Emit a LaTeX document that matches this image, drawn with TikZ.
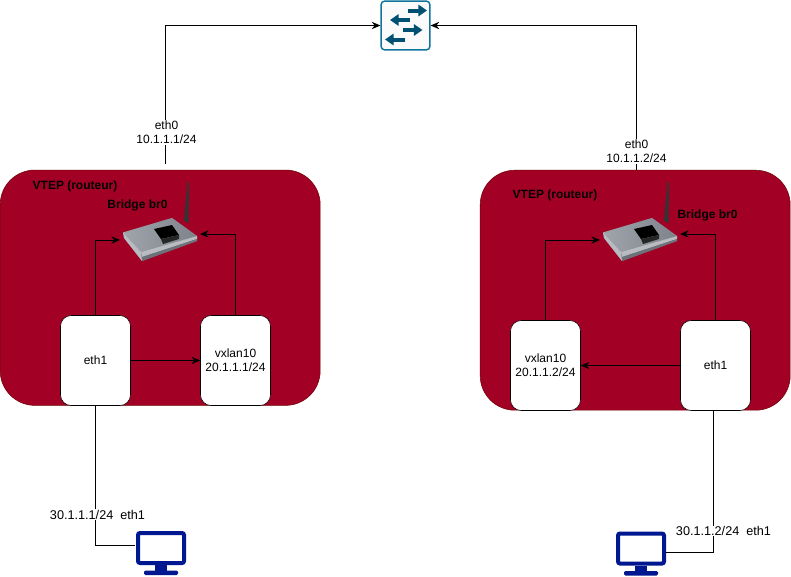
\documentclass[tikz,border=0pt]{standalone}
\usepackage{fontspec}
\setmainfont{Liberation Sans}
\usetikzlibrary{arrows.meta}

\definecolor{vtepred}{HTML}{A20025}
\definecolor{vtepedge}{HTML}{6F0000}
\definecolor{swblue}{HTML}{005073}
\definecolor{swedge}{HTML}{10739E}
\definecolor{pcblue}{HTML}{00188F}
\definecolor{bridgetop}{HTML}{7E828A}
\definecolor{bridgelight}{HTML}{A0A4AB}
\definecolor{bridgerim}{HTML}{B8BBC0}
\definecolor{bridgedark}{HTML}{6E7278}

\tikzset{
  every node/.style={font=\fontsize{9}{10.5}\selectfont},
  vtep/.style={draw=vtepedge, fill=vtepred, rounded corners=26pt, minimum height=176.5pt, inner sep=0pt},
  iface/.style={draw=black, fill=white, rounded corners=8pt, minimum width=52.5pt, minimum height=67.5pt, inner sep=0pt, align=center},
  link/.style={draw=black, line width=0.75pt},
  arrowlink/.style={link, -{Stealth[length=6.5pt,width=5.5pt]}},
  addr/.style={fill=white, inner sep=0.5pt, align=center},
  hostaddr/.style={addr, font=\fontsize{9.5}{10.5}\selectfont},
  title/.style={font=\fontsize{9}{10.5}\selectfont\bfseries},
  switchbox/.style={draw=swedge, fill=white!98!black, line width=1.1pt, rounded corners=2.5pt, minimum size=36.5pt, inner sep=0pt},
  screen/.style={draw=pcblue, fill=white, line width=3pt, rounded corners=1.5pt, minimum width=34.5pt, minimum height=22.5pt, inner sep=0pt},
  bridgespot/.style={minimum width=57pt, minimum height=33pt, inner sep=0pt},
  swarrow/.style={draw=swblue, line width=3pt, -{Triangle[length=6.5pt,width=8.5pt]}},
  switcharrows/.pic={
    \draw[swarrow] (2,-15) -- (21.5,-15);
    \draw[swarrow] (4,-5.5) -- (-15.5,-5.5);
    \draw[swarrow] (-2.5,4.5) -- (17,4.5);
    \draw[swarrow] (-1,14) -- (-20.5,14);
  },
  hoststand/.pic={
    \fill[pcblue] (-6,0) -- (6,0) -- (6,6) -- (-6,6) -- cycle;
    \fill[pcblue, rounded corners=1pt] (-17,5.5) -- (17,5.5) -- (17,10) -- (-17,10) -- cycle;
  },
  bridgeicon/.pic={
    % antenna
    \fill[black!80] (24,-17) -- (27.5,-56) -- (29,-56) -- (28.5,-15) -- cycle;
    % body
    \fill[bridgedark] (-37,-5.5) -- (12,-20) -- (37,-2) -- (37,3) -- (-18,23) -- (-36,0) -- cycle;
    \shade[left color=bridgelight, right color=bridgetop] (-37,-5.5) -- (12,-20) -- (37,-2) -- (-19,14) -- cycle;
    \fill[bridgerim] (-37,-5.5) -- (-19,14) -- (-18,23) -- (-36,0) -- cycle;
    \fill[bridgerim] (-19,14) -- (37,-2) -- (37,1) -- (-18,19) -- cycle;
    \fill[bridgedark] (-18,19) -- (37,1) -- (37,3) -- (-18,23) -- cycle;
    % front panel
    \fill[black] (-6,-9) -- (12,-13) -- (19,-3) -- (1,1) -- cycle;
    \fill[black!85] (3,6) -- (19,1) -- (19,-3) -- (1,1) -- cycle;
  }
}

\begin{document}
\begin{tikzpicture}[x=0.75pt, y=-0.75pt]
\useasboundingbox (0,0) rectangle (791,576);

% left side
\node[vtep, minimum width=240pt] (vtepL) at (160.2,287.7) {};
\node[title] (vtepLtitle) at (75,186) {VTEP (routeur)};
\node[title] (brLtitle) at (137.5,205) {Bridge br0};
\node[bridgespot] (brL) at (160,238) {};
\pic at (brL) {bridgeicon};
\coordinate (brLin) at (120,240);
\coordinate (brLout) at (200,234);
\node[iface] (eth1L) at (95.5,360.5) {eth1};
\node[iface] (vxlanL) at (235.5,360.5) {vxlan10\\20.1.1.1/24};

% right side
\node[vtep, minimum width=232.5pt, minimum height=180pt] (vtepR) at (635.2,290.2) {};
\node[title] (vtepRtitle) at (555,195.5) {VTEP (routeur)};
\node[title] (brRtitle) at (707.5,215) {Bridge br0};
\node[bridgespot] (brR) at (640,238) {};
\pic at (brR) {bridgeicon};
\coordinate (brRin) at (600,240);
\coordinate (brRout) at (680,234);
\node[iface] (vxlanR) at (545.5,365.5) {vxlan10\\20.1.1.2/24};
\node[iface] (eth1R) at (715.5,365.5) {eth1};

% switch
\node[switchbox] (sw) at (405.5,25.5) {};
\pic at (sw) {switcharrows};

% hosts
\node[screen] (pcL) at (161,548) {};
\pic at (pcL.south) {hoststand};
\node[screen] (pcR) at (641,548.5) {};
\pic at (pcR.south) {hoststand};
\coordinate (pcLin) at (135,545.5);
\coordinate (pcRin) at (666,552.5);

% links
\coordinate (upL) at (165.5,164);
\coordinate (upR) at (636,170);
\coordinate (downR) at (713.5,410);
\draw[arrowlink] (upL) |- (sw.west);
\draw[arrowlink] (upR) |- (sw.east);
\draw[arrowlink] (eth1L.north) |- (brLin);
\draw[arrowlink] (vxlanL.north) |- (brLout);
\draw[arrowlink] (eth1L.east) -- (vxlanL.west);
\draw[arrowlink] (vxlanR.north) |- (brRin);
\draw[arrowlink] (eth1R.north) |- (brRout);
\draw[arrowlink] (eth1R.west) -- (vxlanR.east);
\draw[link] (eth1L.south) |- (pcLin);
\draw[link] (downR) |- (pcRin);

% labels
\node[addr] (eth0L) at (166.5,132.5) {eth0\\10.1.1.1/24};
\node[addr] (eth0R) at (636.5,151.5) {eth0\\10.1.1.2/24};
\node[hostaddr] (addrL) at (97.5,514.5) {30.1.1.1/24\ \ eth1};
\node[hostaddr] (addrR) at (723.5,531) {30.1.1.2/24\ \ eth1};
\end{tikzpicture}
\end{document}
